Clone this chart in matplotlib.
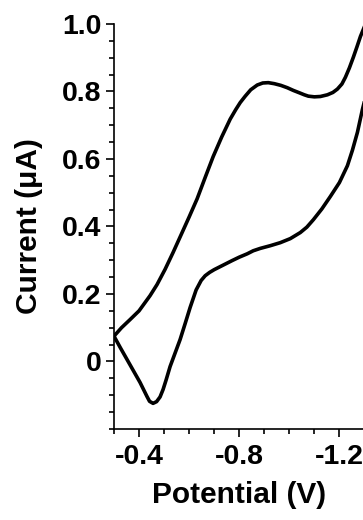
import matplotlib
matplotlib.use("Agg")
import matplotlib.pyplot as plt
from matplotlib.ticker import MultipleLocator, FuncFormatter

# Cyclic voltammogram (one closed loop)
potential = [
    -0.300, -0.330, -0.364, -0.400, -0.444, -0.472, -0.504, -0.536, -0.572,
    -0.600, -0.632, -0.664, -0.696, -0.730, -0.764, -0.786, -0.804, -0.824,
    -0.846, -0.872, -0.894, -0.916, -0.940, -0.966, -0.992, -1.016, -1.040,
    -1.060, -1.076, -1.100, -1.124, -1.152, -1.174, -1.192, -1.210, -1.224,
    -1.240, -1.256, -1.270, -1.284, -1.310,
    -1.310, -1.292, -1.272, -1.252, -1.232, -1.200, -1.164, -1.130, -1.096,
    -1.070, -1.044, -1.004, -0.964, -0.924, -0.884, -0.856, -0.832, -0.800,
    -0.772, -0.748, -0.724, -0.700, -0.682, -0.664, -0.648, -0.628, -0.604,
    -0.584, -0.564, -0.544, -0.524, -0.508, -0.496, -0.484, -0.470, -0.456,
    -0.442, -0.432, -0.418, -0.404, -0.378, -0.352, -0.326, -0.300,
]
current = [
    0.075, 0.100, 0.124, 0.150, 0.195, 0.228, 0.273, 0.323, 0.382,
    0.428, 0.482, 0.545, 0.607, 0.665, 0.718, 0.746, 0.767, 0.786,
    0.805, 0.819, 0.825, 0.826, 0.823, 0.818, 0.811, 0.803, 0.796,
    0.790, 0.786, 0.784, 0.785, 0.790, 0.797, 0.807, 0.822, 0.842,
    0.870, 0.902, 0.932, 0.963, 1.010,
    0.800, 0.747, 0.679, 0.626, 0.580, 0.530, 0.489, 0.452, 0.420,
    0.398, 0.382, 0.364, 0.352, 0.343, 0.335, 0.328, 0.319, 0.309,
    0.299, 0.290, 0.281, 0.272, 0.264, 0.254, 0.240, 0.212, 0.160,
    0.112, 0.065, 0.025, -0.015, -0.055, -0.083, -0.105, -0.119, -0.124,
    -0.118, -0.104, -0.083, -0.062, -0.028, 0.006, 0.040, 0.075,
]

x_ticks = [-0.4, -0.8, -1.2]
y_ticks = [0, 0.2, 0.4, 0.6, 0.8, 1.0]

plt.rcParams['font.family'] = ['Liberation Sans', 'DejaVu Sans']
plt.rcParams['font.weight'] = 'bold'
plt.rcParams['axes.unicode_minus'] = False

fig = plt.figure(figsize=(3.63, 5.2), dpi=100)
ax = fig.add_axes([0.314, 0.175, 0.69, 0.779])

ax.plot(potential, current, color='black', lw=2.6, solid_joinstyle='round')

ax.set_xlim(-0.3, -1.3)
ax.set_ylim(-0.2, 1.0)
ax.set_xticks(x_ticks)
ax.set_yticks(y_ticks)
ax.xaxis.set_minor_locator(MultipleLocator(0.1))
ax.yaxis.set_minor_locator(MultipleLocator(0.05))
ax.yaxis.set_major_formatter(
    FuncFormatter(lambda v, p: "0" if abs(v) < 1e-9 else f"{v:.1f}"))

for side in ['top', 'right']:
    ax.spines[side].set_visible(False)
for side in ['left', 'bottom']:
    ax.spines[side].set_linewidth(1.2)

ax.tick_params(which='major', length=6, width=1.2, direction='out',
               labelsize=20.5, pad=3)
ax.tick_params(which='minor', length=3.5, width=1.2, direction='out')
ax.tick_params(axis='x', which='major', pad=5)
for lbl in ax.get_xticklabels() + ax.get_yticklabels():
    lbl.set_fontweight('bold')

ax.set_xlabel("Potential (V)", fontsize=21.5, fontweight='bold', labelpad=8)
ax.set_ylabel("Current (\u03bcA)", fontsize=21.5, fontweight='bold',
              labelpad=14)

fig.savefig("out.png", dpi=100)
